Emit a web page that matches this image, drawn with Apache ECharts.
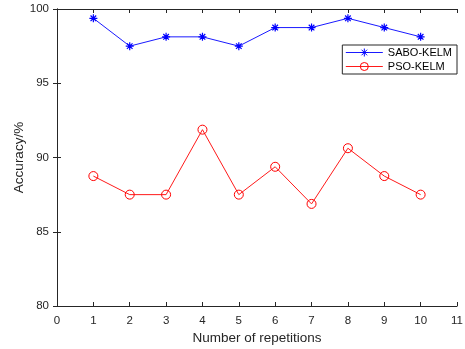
<!DOCTYPE html>
<html>
<head>
<meta charset="utf-8">
<script src="https://cdn.jsdelivr.net/npm/echarts@6/dist/echarts.min.js"></script>
<style>
  html, body { margin: 0; padding: 0; background: #fff; }
  #main { width: 465px; height: 349px; }
</style>
</head>
<body>
<div id="main"></div>
<script>
var runs = [1, 2, 3, 4, 5, 6, 7, 8, 9, 10];
var saboKelm = [99.375, 97.5, 98.125, 98.125, 97.5, 98.75, 98.75, 99.375, 98.75, 98.125];
var psoKelm = [88.75, 87.5, 87.5, 91.875, 87.5, 89.375, 86.875, 90.625, 88.75, 87.5];

var dome = document.getElementById('main');
var myChart = echarts.init(dome);

function pairs(ys) {
  return runs.map(function (x, i) { return [x, ys[i]]; });
}

var axisColor = '#262626';
var font = 'Liberation Sans, Arial, sans-serif';
var star = 'path://M0,-10L0,10M-10,0L10,0M-7,-7L7,7M-7,7L7,-7';

var option = {
  backgroundColor: '#fff',
  animation: false,
  grid: { left: 57, right: 8, top: 9, bottom: 43, containLabel: false, outerBoundsMode: 'none' },
  legend: {
    orient: 'vertical',
    right: 8,
    top: 45,
    backgroundColor: '#fff',
    borderColor: axisColor,
    borderWidth: 1,
    borderRadius: 0,
    padding: [2, 5, 2, 3],
    itemWidth: 37,
    itemHeight: 10,
    itemGap: 3,
    lineStyle: { width: 1 },
    itemStyle: { borderWidth: 1 },
    textStyle: { fontFamily: font, fontSize: 11, color: '#000' },
    data: ['SABO-KELM', 'PSO-KELM']
  },
  xAxis: [{
    type: 'value',
    min: 0, max: 11, interval: 1,
    name: 'Number of repetitions',
    nameLocation: 'middle',
    nameGap: 25,
    nameMoveOverlap: false,
    nameTextStyle: { fontFamily: font, fontSize: 13.5, color: axisColor },
    axisLine: { lineStyle: { color: axisColor } },
    axisTick: { inside: true, length: 4, lineStyle: { color: axisColor } },
    axisLabel: { fontFamily: font, fontSize: 11.5, color: axisColor, margin: 9 },
    splitLine: { show: false }
  }, {
    type: 'value', position: 'top',
    min: 0, max: 11, interval: 1,
    axisLine: { lineStyle: { color: axisColor } },
    axisTick: { inside: true, length: 4, lineStyle: { color: axisColor } },
    axisLabel: { show: false },
    splitLine: { show: false }
  }],
  yAxis: [{
    type: 'value',
    min: 80, max: 100, interval: 5,
    name: 'Accuracy/%',
    nameLocation: 'middle',
    nameGap: 31,
    nameMoveOverlap: false,
    nameTextStyle: { fontFamily: font, fontSize: 13.5, color: axisColor },
    axisLine: { show: true, lineStyle: { color: axisColor } },
    axisTick: { show: true, inside: true, length: 4, lineStyle: { color: axisColor } },
    axisLabel: { fontFamily: font, fontSize: 11.5, color: axisColor, margin: 8 },
    splitLine: { show: false }
  }, {
    type: 'value', position: 'right',
    min: 80, max: 100, interval: 5,
    axisLine: { show: true, lineStyle: { color: axisColor } },
    axisTick: { show: true, inside: true, length: 4, lineStyle: { color: axisColor } },
    axisLabel: { show: false },
    splitLine: { show: false }
  }],
  series: [{
    name: 'SABO-KELM',
    type: 'line',
    data: pairs(saboKelm),
    symbol: star,
    symbolSize: 8,
    lineStyle: { color: '#1a1aff', width: 1 },
    itemStyle: { color: '#0000ff', borderColor: '#0000ff', borderWidth: 1.2 }
  }, {
    name: 'PSO-KELM',
    type: 'line',
    data: pairs(psoKelm),
    symbol: 'circle',
    symbolSize: 9,
    lineStyle: { color: '#ff1a1a', width: 1 },
    itemStyle: { color: 'rgba(255,255,255,0)', borderColor: '#ff0000', borderWidth: 1 }
  }]
};

myChart.setOption(option);
</script>
</body>
</html>
